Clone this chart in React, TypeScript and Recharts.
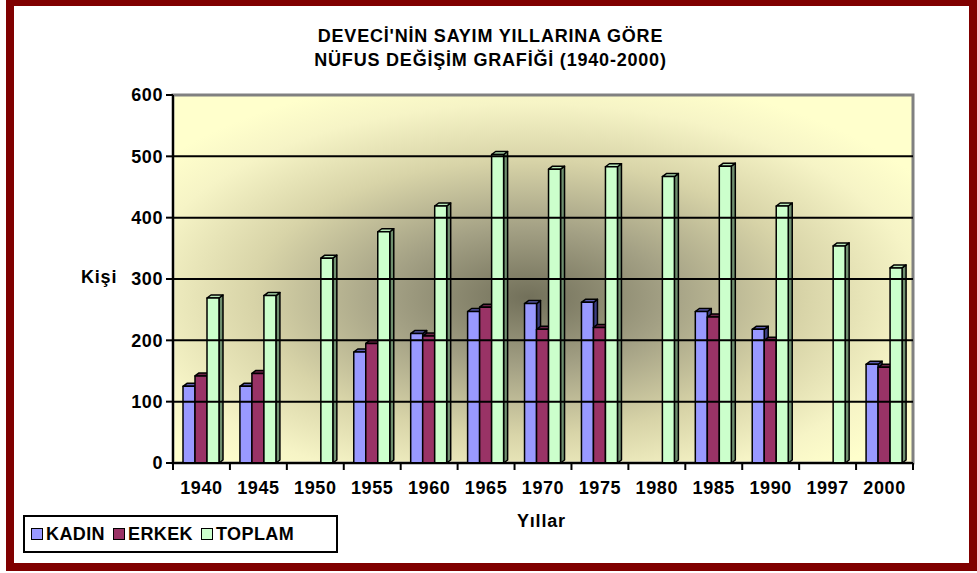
import React from "react";
import {
  Bar,
  BarChart,
  ReferenceArea,
  ReferenceLine,
  XAxis,
  YAxis,
} from "recharts";

const years = ["1940", "1945", "1950", "1955", "1960", "1965", "1970", "1975", "1980", "1985", "1990", "1997", "2000"];
const kadin = [125, 125, null, 181, 211, 247, 260, 262, null, 247, 218, null, 161];
const erkek = [142, 146, null, 195, 207, 254, 218, 221, null, 238, 200, null, 156];
const toplam = [269, 273, 334, 377, 419, 503, 479, 483, 467, 484, 419, 354, 318];
const yTicks = [0, 100, 200, 300, 400, 500, 600];
const gridValues = [100, 200, 300, 400, 500];

const FONT = "'Liberation Sans', Arial, sans-serif";
const FRAME = "#800000";

const data = years.map((year, i) => ({
  year,
  kadin: kadin[i],
  erkek: erkek[i],
  toplam: toplam[i],
}));

const series = [
  { key: "kadin", name: "KADIN", fill: "#9999ff", top: "#5c5cb0", side: "#3d3d80" },
  { key: "erkek", name: "ERKEK", fill: "#993366", top: "#6b2347", side: "#4d1a33" },
  { key: "toplam", name: "TOPLAM", fill: "#ccffcc", top: "#b8e8b8", side: "#6f8f6f" },
];

// front face + top cap + right side, like excel's 3-D columns
function Bar3D(props: any) {
  const { x, y, width, height, fill, top, side } = props;
  if (!height || height <= 0) return null;
  const d = 4;
  const e = 3;
  return (
    <g stroke="#000" strokeWidth={1.5} strokeLinejoin="round">
      <polygon
        points={`${x + width},${y} ${x + width + d},${y - e} ${x + width + d},${y + height - e} ${x + width},${y + height}`}
        fill={side}
      />
      <polygon
        points={`${x},${y} ${x + d},${y - e} ${x + width + d},${y - e} ${x + width},${y}`}
        fill={top}
      />
      <rect x={x} y={y} width={width} height={height} fill={fill} />
    </g>
  );
}

function YearTick(props: any) {
  const { x, y, payload, index } = props;
  const half = payload?.offset || 740 / 26;
  return (
    <g>
      <line x1={x - half} y1={y} x2={x - half} y2={y + 7} stroke="#000" strokeWidth={2} />
      {index === years.length - 1 && (
        <line x1={x + half} y1={y} x2={x + half} y2={y + 7} stroke="#000" strokeWidth={2} />
      )}
      <text
        x={x}
        y={y + 31}
        textAnchor="middle"
        fontFamily={FONT}
        fontWeight="bold"
        fontSize={18}
        letterSpacing={0.6}
        fill="#000"
      >
        {payload.value}
      </text>
    </g>
  );
}

const textStyle: React.CSSProperties = {
  position: "absolute",
  fontFamily: FONT,
  fontWeight: "bold",
  fontSize: 18,
  lineHeight: "18px",
  letterSpacing: 0.8,
  color: "#000",
  whiteSpace: "nowrap",
};

export default function App() {
  return (
    <div
      style={{
        position: "absolute",
        left: 0,
        top: 0,
        width: 977,
        height: 573,
        overflow: "hidden",
        background: "#fff",
      }}
    >
      <div
        style={{
          position: "absolute",
          left: 6,
          top: -2,
          width: 971,
          height: 573,
          boxSizing: "border-box",
          border: `8px solid ${FRAME}`,
        }}
      />

      <div style={{ ...textStyle, left: 2, width: 977, top: 27, textAlign: "center" }}>
        DEVECİ'NİN SAYIM YILLARINA GÖRE
      </div>
      <div style={{ ...textStyle, left: 2, width: 977, top: 51, textAlign: "center" }}>
        NÜFUS DEĞİŞİM GRAFİĞİ (1940-2000)
      </div>

      <div style={{ position: "absolute", left: 0, top: 0 }}>
        <BarChart
          width={977}
          height={573}
          data={data}
          margin={{ top: 95, right: 64, bottom: 70, left: 113 }}
          barGap={0}
          barSize={12}
        >
          <defs>
            <radialGradient id="wallGrad" cx="0.48" cy="0.55" r="0.62">
              <stop offset="0" stopColor="#72705a" />
              <stop offset="0.3" stopColor="#a3a084" />
              <stop offset="0.6" stopColor="#d8d4a8" />
              <stop offset="0.85" stopColor="#f6f4c6" />
              <stop offset="1" stopColor="#ffffcc" />
            </radialGradient>
          </defs>
          <ReferenceArea
            y1={0}
            y2={600}
            fill="url(#wallGrad)"
            fillOpacity={1}
            stroke="#808080"
            strokeWidth={3}
            ifOverflow="visible"
          />
          {gridValues.map((v) => (
            <ReferenceLine key={v} y={v} stroke="#000" strokeWidth={2} />
          ))}
          <XAxis
            dataKey="year"
            height={40}
            tickSize={0}
            tickMargin={0}
            tickLine={false}
            axisLine={{ stroke: "#000", strokeWidth: 2 }}
            tick={<YearTick />}
            interval={0}
          />
          <YAxis
            width={60}
            domain={[0, 600]}
            ticks={yTicks}
            interval={0}
            tickSize={7}
            tickMargin={3}
            axisLine={{ stroke: "#000", strokeWidth: 2 }}
            tickLine={{ stroke: "#000", strokeWidth: 2 }}
            tick={{ fontFamily: FONT, fontWeight: "bold", fontSize: 18, letterSpacing: 0.6, fill: "#000" }}
          />
          {series.map((s) => (
            <Bar
              key={s.key}
              dataKey={s.key}
              name={s.name}
              fill={s.fill}
              isAnimationActive={false}
              shape={(p: any) => <Bar3D {...p} fill={s.fill} top={s.top} side={s.side} />}
            />
          ))}
        </BarChart>
      </div>

      <div style={{ ...textStyle, left: 81, top: 268 }}>Kişi</div>
      <div style={{ ...textStyle, left: 517, top: 512 }}>Yıllar</div>

      <div
        style={{
          position: "absolute",
          left: 23,
          top: 515,
          width: 315,
          height: 38,
          boxSizing: "border-box",
          border: "2px solid #000",
          background: "#fff",
          display: "flex",
          alignItems: "center",
          paddingLeft: 6,
        }}
      >
        {series.map((s) => (
          <div key={s.key} style={{ display: "flex", alignItems: "center", marginRight: 8 }}>
            <span
              style={{
                display: "inline-block",
                width: 10,
                height: 10,
                border: "1.5px solid #000",
                background: s.fill,
                marginRight: 3,
              }}
            />
            <span
              style={{
                fontFamily: FONT,
                fontWeight: "bold",
                fontSize: 18,
                letterSpacing: 0.4,
                lineHeight: "18px",
              }}
            >
              {s.name}
            </span>
          </div>
        ))}
      </div>
    </div>
  );
}
